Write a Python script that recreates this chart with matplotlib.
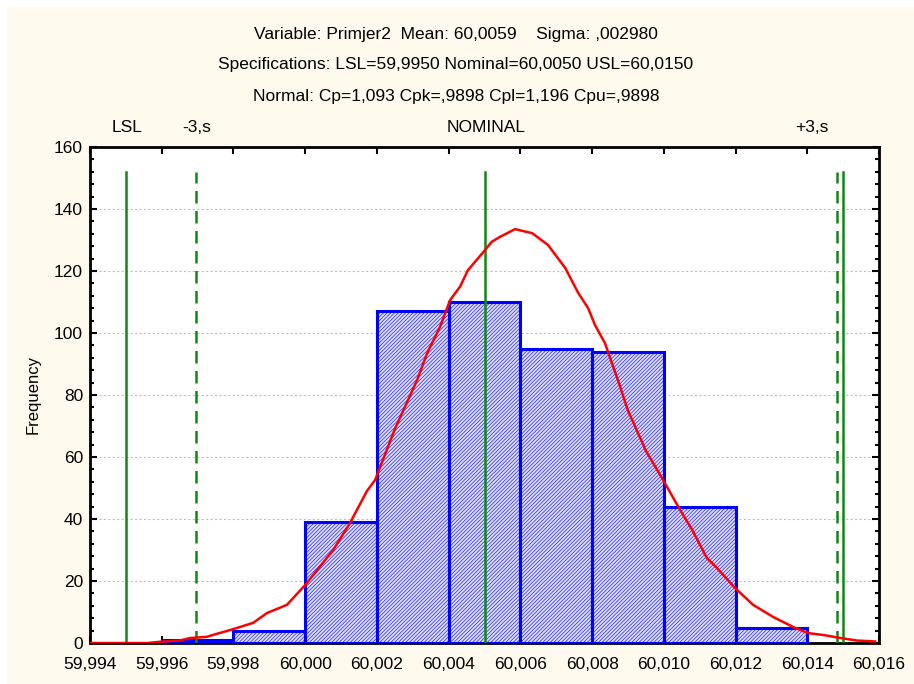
import matplotlib.pyplot as plt
import matplotlib.patches as mpatches
from matplotlib.ticker import MultipleLocator, FuncFormatter

plt.rcParams['font.family'] = ['Liberation Sans', 'DejaVu Sans']
plt.rcParams['hatch.linewidth'] = 0.5

# histogram bins (left edges) and counts
bin_left = [59.996, 59.998, 60.000, 60.002, 60.004, 60.006, 60.008, 60.010, 60.012]
counts = [1, 4, 39, 107, 110, 95, 94, 44, 5]
bin_width = 0.002

# fitted curve
curve_x = [59.994, 59.9956, 59.99595, 59.9965, 59.99679, 59.99726, 59.99743, 59.998,
           59.99855, 59.99894, 59.99949, 60.000, 60.00078, 60.00125, 60.00172, 60.00195,
           60.0025, 60.00312, 60.0034, 60.00376, 60.00404, 60.00432, 60.00454, 60.00496,
           60.0052, 60.00543, 60.00585, 60.00633, 60.00677, 60.00725, 60.00761, 60.00789,
           60.00808, 60.00836, 60.00872, 60.009, 60.0095, 60.00998, 60.01045, 60.01079,
           60.0112, 60.01148, 60.01199, 60.01249, 60.01305, 60.0136, 60.01402, 60.01444,
           60.01483, 60.0151, 60.01538, 60.01589]
curve_y = [0, 0, 0.4, 0.8, 1.6, 2.0, 2.6, 4.5,
           6.5, 9.7, 12.3, 18.7, 30, 38.7, 49, 52.6,
           69, 84.8, 93.5, 102, 110.6, 115, 120.3, 126,
           129.4, 131, 133.5, 132.2, 128.4, 121, 113, 108,
           102.6, 96.7, 84.8, 75, 62, 52.6, 43, 36.5,
           27.4, 24.2, 17.7, 12.3, 8.4, 5.2, 3.2, 2.6,
           1.8, 1.3, 0.8, 0.5]

# specification / sigma lines
lsl = 59.995
nominal = 60.005
usl = 60.015
minus3s = 59.99696
plus3s = 60.01484
line_top = 152

top_labels = ['LSL', '-3,s', 'NOMINAL', '+3,s']
top_label_x = [59.99503, 59.99698, 60.00505, 60.01413]

title_lines = ["Variable: Primjer2  Mean: 60,0059    Sigma: ,002980",
               "Specifications: LSL=59,9950 Nominal=60,0050 USL=60,0150",
               "Normal: Cp=1,093 Cpk=,9898 Cpl=1,196 Cpu=,9898"]

cream = '#fff9ee'
fs = 12.5

fig = plt.figure(figsize=(9.14, 6.84), dpi=100, facecolor='white')
fig.patches.append(mpatches.Rectangle((7 / 914, 0), 1, 1 - 7 / 684, transform=fig.transFigure,
                                      facecolor=cream, edgecolor='none', zorder=-10))
ax = fig.add_axes([90 / 914, 1 - 643 / 684, 789 / 914, 496 / 684])
ax.set_facecolor('white')

ax.bar(bin_left, counts, width=bin_width, align='edge', facecolor='#dedeff',
       edgecolor='#2020ff', hatch='/////////', linewidth=0, zorder=2)
ax.bar(bin_left, counts, width=bin_width, align='edge', facecolor='none',
       edgecolor='blue', linewidth=2.2, zorder=3)

ax.plot(curve_x, curve_y, color='red', linewidth=1.8, zorder=5)

for xv, ls in [(lsl, '-'), (nominal, '-'), (usl, '-'), (minus3s, '--'), (plus3s, '--')]:
    ax.plot([xv, xv], [0, line_top], color='#118811', linestyle=ls, linewidth=1.8,
            dashes=(5, 3) if ls == '--' else (None, None), zorder=4)

ax.set_xlim(59.994, 60.016)
ax.set_ylim(0, 160)
ax.xaxis.set_major_locator(MultipleLocator(0.002))
ax.yaxis.set_major_locator(MultipleLocator(20))
ax.yaxis.set_minor_locator(MultipleLocator(4))
ax.xaxis.set_major_formatter(FuncFormatter(lambda v, p: f"{v:.3f}".replace('.', ',')))
ax.grid(axis='y', color='#c0c0c0', linestyle=(0, (2, 2)), linewidth=0.8, zorder=0)
ax.set_axisbelow(True)
ax.tick_params(axis='both', which='both', direction='in', top=True, right=True,
               labelsize=fs, width=1.5)
ax.tick_params(axis='both', which='major', length=5)
ax.tick_params(axis='y', which='minor', length=3)
ax.tick_params(axis='y', pad=5)
ax.tick_params(axis='x', pad=10)
for s in ax.spines.values():
    s.set_linewidth(2)
ax.set_ylabel('Frequency', fontsize=fs - 0.5, labelpad=10)

for lab, xv in zip(top_labels, top_label_x):
    ax.text(xv, 166.2, lab, ha='center', va='center', fontsize=fs)

for i, t in enumerate(title_lines):
    fig.text(456 / 914, 1 - (34 + 31 * i) / 684, t, ha='center', va='center', fontsize=fs)

fig.savefig('out.png', dpi=100, facecolor=fig.get_facecolor())
